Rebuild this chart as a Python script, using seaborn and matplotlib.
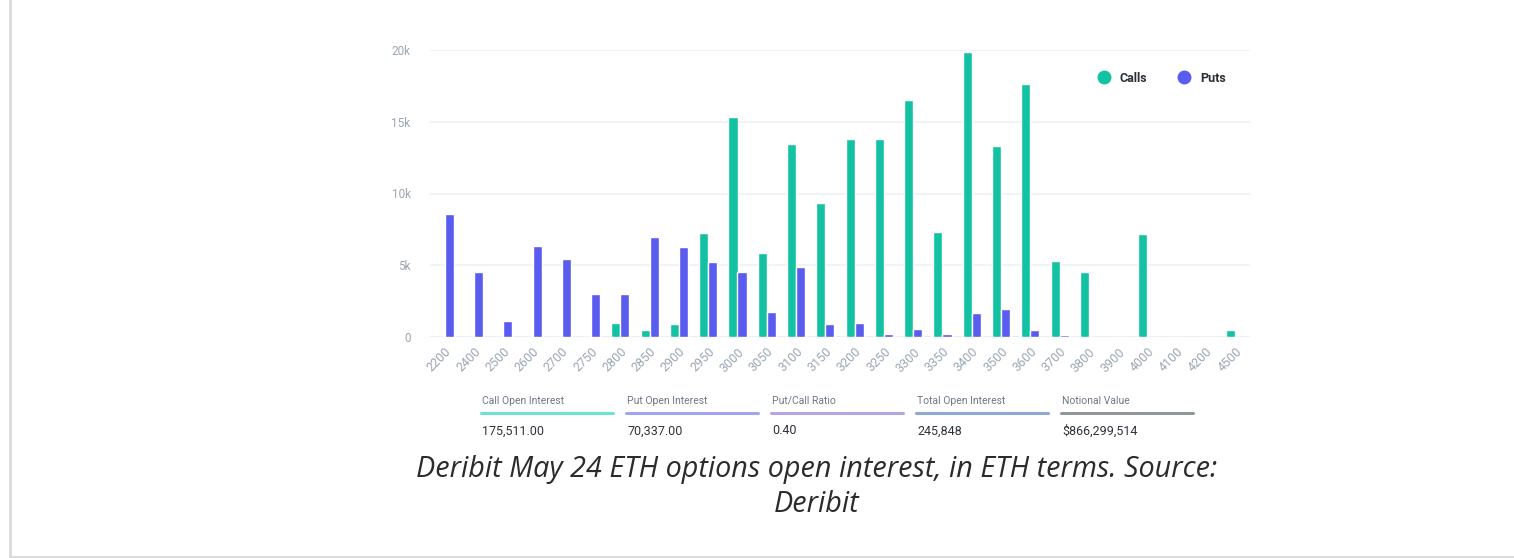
import pandas as pd
import matplotlib.pyplot as plt
import seaborn as sns
from matplotlib.lines import Line2D
from matplotlib.ticker import FuncFormatter

sns.set_theme(style="white")
plt.rcParams['font.family'] = ['Roboto', 'DejaVu Sans']

# strikes and open interest (ETH)
strikes = ['2200', '2400', '2500', '2600', '2700', '2750', '2800', '2850', '2900', '2950',
           '3000', '3050', '3100', '3150', '3200', '3250', '3300', '3350', '3400', '3500',
           '3600', '3700', '3800', '3900', '4000', '4100', '4200', '4500']
calls = [0, 0, 0, 0, 0, 0, 1000, 490, 900, 7270,
         15300, 5880, 13450, 9360, 13780, 13780, 16500, 7340, 19880, 13300,
         17600, 5300, 4500, 0, 7180, 0, 0, 490]
puts = [8600, 4500, 1130, 6340, 5460, 2970, 2970, 6950, 6270, 5200,
        4500, 1720, 4860, 900, 1000, 190, 580, 190, 1650, 1930,
        490, 120, 0, 0, 0, 0, 0, 0]

stat_labels = ['Call Open Interest', 'Put Open Interest', 'Put/Call Ratio',
               'Total Open Interest', 'Notional Value']
stat_values = ['175,511.00', '70,337.00', '0.40', '245,848', '$866,299,514']
stat_colors = ['#6fe3d3', '#a3a3f2', '#b3a5e3', '#8ea7d6', '#8f979b']

call_color = '#12c2a3'
put_color = '#5a5cef'

df = pd.DataFrame({
    'strike': strikes * 2,
    'oi': calls + puts,
    'type': ['Calls'] * len(strikes) + ['Puts'] * len(strikes),
})

fig = plt.figure(figsize=(15.14, 5.58), dpi=100)
ax = fig.add_axes([430 / 1514, 1 - 337 / 558, 820 / 1514, 287 / 558])

sns.barplot(data=df, x='strike', y='oi', hue='type', order=strikes,
            palette={'Calls': call_color, 'Puts': put_color},
            width=0.62, saturation=1, ax=ax, legend=False)

ax.set_ylim(0, 20000)
ax.set_xlim(-0.5, len(strikes) - 0.5)
ax.set_yticks([0, 5000, 10000, 15000, 20000])
ax.yaxis.set_major_formatter(FuncFormatter(lambda v, p: '0' if v == 0 else f'{int(v / 1000)}k'))
ax.grid(axis='y', color='#eef1f4', linewidth=1.2)
ax.set_axisbelow(True)
for s in ax.spines.values():
    s.set_visible(False)
ax.axhline(0, color='#e6eaee', linewidth=1.5, zorder=0)
ax.set_xlabel('')
ax.set_ylabel('')
ax.tick_params(axis='y', length=0, pad=14, labelsize=8.5, labelcolor='#9aa6b2')
ax.tick_params(axis='x', length=0, pad=6, labelsize=9, labelcolor='#9aa6b2')
plt.setp(ax.get_xticklabels(), rotation=45, ha='right', rotation_mode='anchor')

handles = [Line2D([], [], marker='o', linestyle='', markersize=9, color=call_color),
           Line2D([], [], marker='o', linestyle='', markersize=9, color=put_color)]
leg = ax.legend(handles, ['Calls', 'Puts'], ncol=2, frameon=False,
                loc='center left', bbox_to_anchor=(1080 / 1514, 1 - 78 / 558),
                bbox_transform=fig.transFigure, handletextpad=0.3, columnspacing=1.9,
                prop={'size': 9, 'weight': 'bold'})
for t in leg.get_texts():
    t.set_color('#2a2f36')

# summary strip under the chart
for i, (lab, val, col) in enumerate(zip(stat_labels, stat_values, stat_colors)):
    x0 = (482 + 145 * i) / 1514
    fig.text(x0, 1 - 401 / 558, lab, fontsize=7.5, color='#6d7884', va='center', ha='left')
    fig.add_artist(Line2D([x0 - 1 / 1514, x0 + 131 / 1514], [1 - 413 / 558] * 2,
                          color=col, linewidth=2.2, transform=fig.transFigure))
    fig.text(x0, 1 - 431 / 558, val, fontsize=9, color='#2d333a', va='center', ha='left')

cap_font = ['Open Sans', 'DejaVu Sans']
cap_kw = dict(family=cap_font, style='italic', fontstretch='normal', fontweight='normal',
              fontsize=20.7, color='#2b2b2b', ha='center', va='center')
fig.text(817 / 1514, 1 - 470 / 558, 'Deribit May 24 ETH options open interest, in ETH terms. Source:',
         **cap_kw)
fig.text(817 / 1514, 1 - 504 / 558, 'Deribit', **cap_kw)

# thin frame on the left and bottom
fig.add_artist(Line2D([10 / 1514, 10 / 1514], [1 / 558, 1], color='#d9d9d9', linewidth=2,
                      transform=fig.transFigure))
fig.add_artist(Line2D([10 / 1514, 1], [1 / 558, 1 / 558], color='#d9d9d9', linewidth=2,
                      transform=fig.transFigure))

fig.savefig('out.png', dpi=100)
